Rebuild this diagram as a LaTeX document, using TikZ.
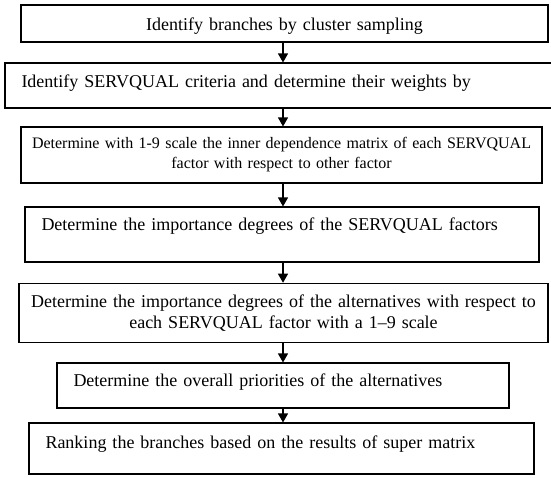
\documentclass[tikz,border=0pt]{standalone}
\usepackage{fontspec}
\setmainfont{Liberation Serif}
\usetikzlibrary{arrows.meta}

\tikzset{
    stepbox/.style={draw, line width=1.1pt, inner ysep=2pt, font=\fontsize{18}{21.5}\selectfont},
    centerbox/.style={stepbox, align=center, inner xsep=6pt},
    leftbox/.style={stepbox, align=left, inner xsep=16.5pt},
    flowarrow/.style={line width=1.1pt, -{Triangle[length=9pt,width=10pt]}}
}

\begin{document}
\begin{tikzpicture}[x=1pt, y=-1pt]
    \useasboundingbox (0,0) rectangle (551,477);
    \node[centerbox, text width=515pt, minimum height=37pt, text height=13pt, text depth=0pt] (identify) at (284.5,23.5) {Identify branches by cluster sampling};
    \node[leftbox, text width=518pt, minimum height=45pt, text height=13pt, text depth=10pt] (criteria) at (280.5,85.5) {Identify SERVQUAL criteria and determine their weights by};
    \node[centerbox, text width=509pt, minimum height=56pt, font=\fontsize{16}{20}\selectfont] (innerdep) at (281.5,155) {Determine with 1-9 scale the inner dependence matrix of each SERVQUAL\\factor with respect to other factor};
    \node[leftbox, text width=481pt, minimum height=55pt, text height=13pt, text depth=22pt] (importance) at (282,234.5) {Determine the importance degrees of the SERVQUAL factors};
    \node[centerbox, text width=517pt, minimum height=59.5pt] (altimportance) at (283.5,313) {Determine the importance degrees of the alternatives with respect to\\each SERVQUAL factor with a 1--9 scale};
    \node[leftbox, text width=419pt, minimum height=45pt, text height=13pt, text depth=11pt] (priorities) at (283,385.5) {Determine the overall priorities of the alternatives};
    \node[leftbox, text width=472pt, minimum height=51pt, text height=13pt, text depth=14pt] (ranking) at (281.5,448.5) {Ranking the branches based on the results of super matrix};
    \coordinate (ax) at (283,0);
    \foreach \a/\b in {identify/criteria, criteria/innerdep, innerdep/importance, importance/altimportance, altimportance/priorities, priorities/ranking}
        \draw[flowarrow] (\a.south -| ax) -- (\b.north -| ax);
\end{tikzpicture}
\end{document}
